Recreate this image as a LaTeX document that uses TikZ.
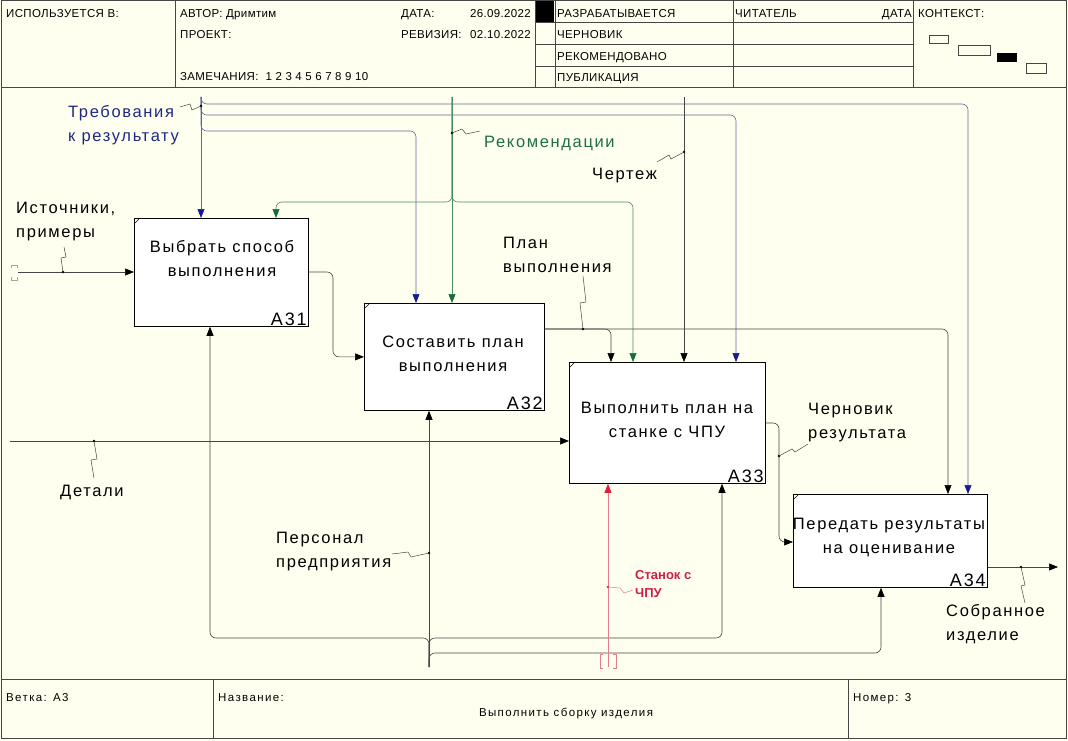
\documentclass[tikz,border=0pt]{standalone}
\usepackage{fontspec}
\setmainfont{Liberation Sans}
\newfontfamily\lbf[LetterSpace=10]{Liberation Sans}
\newfontfamily\hdf[LetterSpace=3]{Liberation Sans}
\newfontfamily\ftf[LetterSpace=12]{Liberation Sans}
\usetikzlibrary{arrows.meta,calc}
\definecolor{bg}{RGB}{255,255,240}
\definecolor{ln}{RGB}{70,70,70}
\definecolor{blL}{RGB}{95,105,150}
\definecolor{blT}{RGB}{20,25,150}
\definecolor{blX}{RGB}{30,40,130}
\definecolor{grL}{RGB}{75,140,100}
\definecolor{grT}{RGB}{20,110,55}
\definecolor{grX}{RGB}{30,110,65}
\definecolor{rdL}{RGB}{230,125,140}
\definecolor{rdT}{RGB}{225,30,60}
\definecolor{rdX}{RGB}{205,30,70}
\newcommand\lblfont{\lbf\fontsize{16.5}{24}\selectfont}
\newcommand\idfont{\lbf\fontsize{18}{20}\selectfont}
\newcommand\hdrfont{\hdf\fontsize{11.5}{13}\selectfont}
\newcommand\ftrfont{\ftf\fontsize{11.5}{13}\selectfont}
\begin{document}
\begin{tikzpicture}[x=1pt,y=-1pt,
  box/.style={draw=black, line width=0.8pt, fill=white, anchor=north west, inner sep=0pt},
  boxtext/.style={font=\lblfont, align=center, inner sep=0pt},
  idl/.style={font=\idfont, anchor=south east, inner xsep=2pt, inner ysep=1pt},
  lbl/.style={font=\lblfont, align=left, anchor=west, inner sep=0pt},
  hdr/.style={font=\hdrfont, anchor=base west, inner sep=0pt},
  ftr/.style={font=\ftrfont, anchor=base west, inner sep=0pt},
  fr/.style={draw=ln, line width=1pt},
  thin/.style={draw=ln, line width=0.6pt},
  kar/.style={draw=ln, line width=0.6pt, rounded corners=6pt, -{Triangle[length=9pt,width=7pt,color=black]}},
  bar/.style={draw=blL, line width=0.6pt, rounded corners=6pt, -{Triangle[length=9pt,width=7pt,color=blT]}},
  gar/.style={draw=grL, line width=0.6pt, rounded corners=6pt, -{Triangle[length=9pt,width=7pt,color=grT]}},
  rar/.style={draw=rdL, line width=0.6pt, rounded corners=6pt, -{Triangle[length=9pt,width=7pt,color=rdT]}},
  sq/.style={draw=ln, line width=0.5pt},
  tun/.style={draw=gray!70, line width=0.6pt}
]
\fill[bg] (0,0) rectangle (1068,741);
\path[use as bounding box] (0,0) rectangle (1068,741);

% frame
\draw[fr] (1,1) rectangle (1066,738);
\draw[fr] (1,88) -- (1066,88);
\draw[fr] (1,679) -- (1066,679);
\draw[thin] (175,1) -- (175,88);
\draw[thin] (535,1) -- (535,88);
\draw[thin] (555,1) -- (555,88);
\draw[thin] (733,1) -- (733,88);
\draw[thin] (913,1) -- (913,88);
\draw[thin] (535,22) -- (913,22);
\draw[thin] (535,44) -- (913,44);
\draw[thin] (535,66) -- (913,66);
\fill[black] (536,1) rectangle (554,22);
\draw[thin] (213,679) -- (213,738);
\draw[thin] (848,679) -- (848,738);

% header texts
\node[hdr] (h1) at (6,18) {ИСПОЛЬЗУЕТСЯ В:};
\node[hdr] (h2) at (180,18) {АВТОР: Дримтим};
\node[hdr] (h3) at (180,39) {ПРОЕКТ:};
\node[hdr] (h4) at (180,81) {ЗАМЕЧАНИЯ:\ \ 1 2 3 4 5 6 7 8 9 10};
\node[hdr] (h5) at (401,18) {ДАТА:};
\node[hdr, anchor=base east] (h6) at (531,18) {26.09.2022};
\node[hdr] (h7) at (401,39) {РЕВИЗИЯ:};
\node[hdr, anchor=base east] (h8) at (531,39) {02.10.2022};
\node[hdr] (h9) at (557,18) {РАЗРАБАТЫВАЕТСЯ};
\node[hdr] (h10) at (557,39) {ЧЕРНОВИК};
\node[hdr] (h11) at (557,61) {РЕКОМЕНДОВАНО};
\node[hdr] (h12) at (557,82) {ПУБЛИКАЦИЯ};
\node[hdr] (h13) at (735,18) {ЧИТАТЕЛЬ};
\node[hdr, anchor=base east] (h14) at (912,18) {ДАТА};
\node[hdr] (h15) at (918,18) {КОНТЕКСТ:};
\draw[thin] (929,35) rectangle (948,43);
\draw[thin] (958,45) rectangle (990,55);
\fill[black] (997,53) rectangle (1017,62);
\draw[thin] (1026,63) rectangle (1046,73);

% footer texts
\node[ftr] (f1) at (6,701) {Ветка: А3};
\node[ftr] (f2) at (218,701) {Название:};
\node[ftr, anchor=base] (f3) at (566,716) {Выполнить сборку изделия};
\node[ftr] (f4) at (853,701) {Номер: 3};

% boxes
\node[box, minimum width=174pt, minimum height=108pt] (a31) at (134,218) {};
\node[box, minimum width=180pt, minimum height=107pt] (a32) at (364,303) {};
\node[box, minimum width=196pt, minimum height=121pt] (a33) at (569,362) {};
\node[box, minimum width=194pt, minimum height=93pt] (a34) at (793,494) {};
\foreach \b in {a31,a32,a33,a34}{
  \draw[line width=0.5pt] (\b.north west) ++(1,5) -- ++(4,-4);
}
\node[boxtext] (a31t) at (222,259) {Выбрать способ\\выполнения};
\node[boxtext] (a32t) at (453,354) {Составить план\\выполнения};
\node[boxtext] (a33t) at (667,420) {Выполнить план на\\станке с ЧПУ};
\node[boxtext] (a34t) at (889,537) {Передать результаты\\на оценивание};
\node[idl] (a31id) at (a31.south east) {A31};
\node[idl] (a32id) at (a32.south east) {A32};
\node[idl] (a33id) at (a33.south east) {A33};
\node[idl] (a34id) at (a34.south east) {A34};

% coordinates
\coordinate (treq) at (201,97);
\coordinate (b1) at (968,104);
\coordinate (b2) at (736,115);
\coordinate (b3) at (416,131);
\coordinate (rec) at (452,97);
\coordinate (g1) at (276,202);
\coordinate (g2) at (633,202);
\coordinate (cht) at (684,97);
\coordinate (src) at (18,272);
\coordinate (det) at (10,441);
\coordinate (k1) at (333,272);
\coordinate (pl) at (948,329);
\coordinate (pl2) at (611,329);
\coordinate (cr) at (779,423);
\coordinate (out) at (1058,567);
\coordinate (pers) at (429,667);
\coordinate (m1) at (210,638);
\coordinate (m2) at (722,638);
\coordinate (m3) at (881,653);
\coordinate (stk) at (608,667);

% controls (blue)
\draw[bar] (treq) -- (treq |- a31.north);
\draw[bar] (treq) -- (treq |- b1) -- (b1) -- (b1 |- a34.north);
\draw[bar] (treq) -- (treq |- b2) -- (b2) -- (b2 |- a33.north);
\draw[bar] (treq) -- (treq |- b3) -- (b3) -- (b3 |- a32.north);
% green
\draw[gar] (rec) -- (rec |- a32.north);
\draw[gar] (rec) -- (rec |- g1) -- (g1) -- (g1 |- a31.north);
\draw[gar] (rec) -- (rec |- g2) -- (g2) -- (g2 |- a33.north);
% black control
\draw[kar] (cht) -- (cht |- a33.north);
% inputs
\draw[kar] (src) -- (src -| a31.west);
\draw[kar] (det) -- (det -| a33.west);
% internal flows
\draw[kar] (a31.east |- k1) -- (k1) -- (k1 |- a32.west) -- (a32.west);
\draw[kar] (a32.east |- pl) -- (pl) -- (pl |- a34.north);
\draw[kar] (a32.east |- pl) -- (pl2) -- (pl2 |- a33.north);
\draw[kar] (a33.east |- cr) -- (cr) -- (cr |- 0,542) -- (a34.west |- 0,542);
\draw[kar] (a34.east |- out) -- (out);
% mechanisms
\draw[kar] (pers) -- (pers |- a32.south);
\draw[kar] (pers) -- (pers |- m1) -- (m1) -- (m1 |- a31.south);
\draw[kar] (pers) -- (pers |- m2) -- (m2) -- (m2 |- a33.south);
\draw[kar] (pers) -- (pers |- m3) -- (m3) -- (m3 |- a34.south);
\draw[rar] (stk) -- (stk |- a33.south);

% tunnels
\draw[tun] (11,268) -- (11,265) -- (17,265) -- (17,268);
\draw[tun] (11,277) -- (11,280) -- (17,280) -- (17,277);
\draw[draw=rdL, line width=0.6pt] (603,654) -- (600,654) -- (600,668) -- (603,668);
\draw[draw=rdL, line width=0.6pt] (613,654) -- (616,654) -- (616,668) -- (613,668);

% dots
\coordinate (d1) at (201,106);
\coordinate (d2) at (452,133);
\coordinate (d3) at (684,152);
\coordinate (d4) at (63,272);
\coordinate (d5) at (94,441);
\coordinate (d6) at (583,329);
\coordinate (d7) at (779,456);
\coordinate (d8) at (429,553);
\coordinate (d9) at (608,587);
\coordinate (d10) at (1021,567);
\foreach \d in {d1,d2,d3,d4,d5,d6,d7,d8,d10}{
  \fill[black] (\d) circle (1.4pt);
}
\fill[rdT] (d9) circle (1.4pt);

% squiggles
\draw[sq] (d1) -- (192,110) -- (190,104) -- (180,107);
\draw[sq] (d2) -- (462,129) -- (466,134) -- (480,131);
\draw[sq] (d3) -- (671,159) -- (669,155) -- (657,162);
\draw[sq] (d4) -- (61,258) -- (66,257) -- (64,247);
\draw[sq] (d5) -- (97,459) -- (91,460) -- (94,478);
\draw[sq] (d6) -- (580,303) -- (586,302) -- (583,276);
\draw[sq] (d7) -- (792,449) -- (795,452) -- (808,444);
\draw[sq] (d8) -- (411,557) -- (408,552) -- (392,554);
\draw[draw=rdL, line width=0.5pt] (d9) -- (620,588) -- (624,593) -- (633,590);
\draw[sq] (d10) -- (1025,585) -- (1021,586) -- (1025,603);

% labels
\node[lbl, text=blX] (l1) at (68,125) {Требования\\к результату};
\node[lbl, text=grX] (l2) at (484,143) {Рекомендации};
\node[lbl] (l3) at (592,176) {Чертеж};
\node[lbl] (l4) at (16,222) {Источники,\\примеры};
\node[lbl] (l5) at (503,255) {План\\выполнения};
\node[lbl] (l6) at (808,423) {Черновик\\результата};
\node[lbl] (l7) at (60,492) {Детали};
\node[lbl] (l8) at (276,552) {Персонал\\предприятия};
\node[lbl, text=rdX, font=\bfseries\fontsize{13}{18}\selectfont] (l9) at (635,584) {Станок с\\ЧПУ};
\node[lbl] (l10) at (946,624) {Собранное\\изделие};
\end{tikzpicture}
\end{document}
